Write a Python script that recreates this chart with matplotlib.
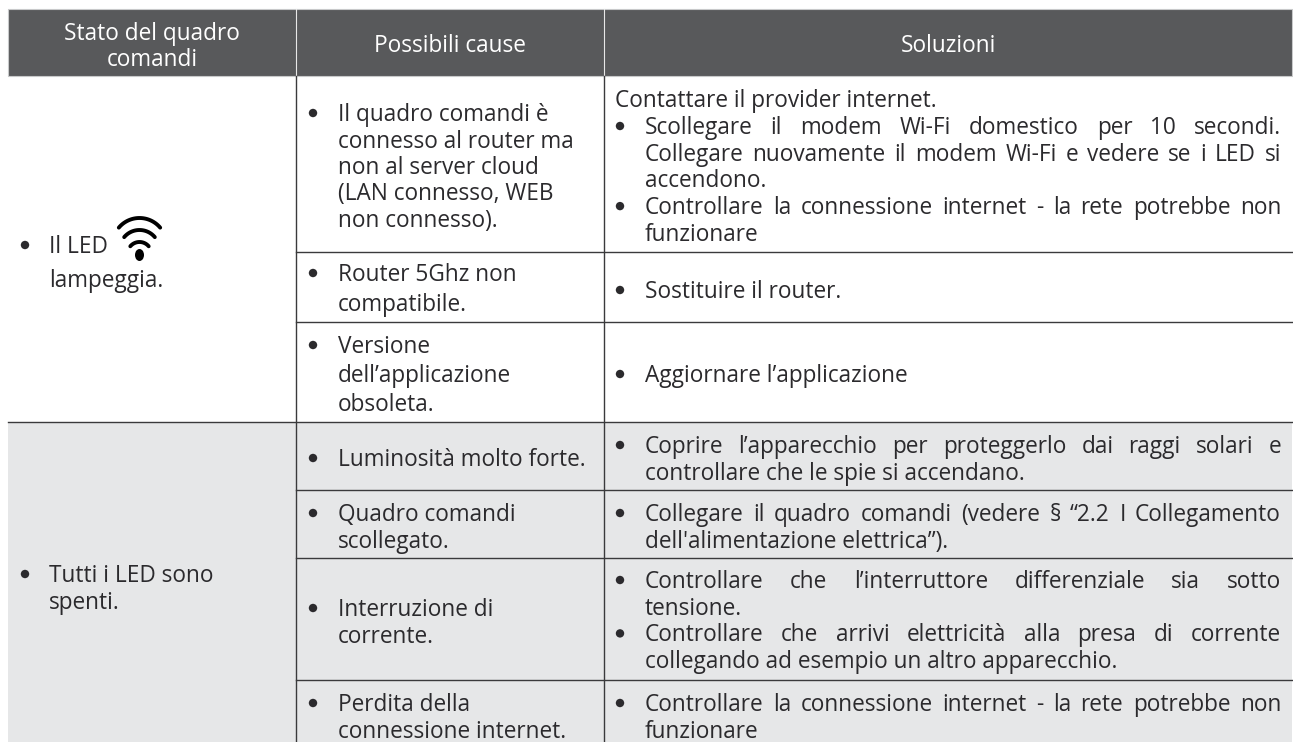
import numpy as np
import matplotlib
matplotlib.use("Agg")
import matplotlib.pyplot as plt
import matplotlib.patches as mpatches

plt.rcParams['font.family'] = ['Open Sans', 'DejaVu Sans']

# griglia della tabella (pixel)
col_edges = [8, 296, 604, 1292]
row_edges = [9, 76, 251.5, 322, 422, 490, 558, 679.5, 742]

col_titles = ["Stato del quadro", "comandi", "Possibili cause", "Soluzioni"]

stato_1 = ["Il LED", "lampeggia."]
stato_2 = ["Tutti i LED sono", "spenti."]

cause = [
    ["Il quadro comandi è", "connesso al router ma", "non al server cloud",
     "(LAN connesso, WEB", "non connesso)."],
    ["Router 5Ghz non", "compatibile."],
    ["Versione", "dell’applicazione", "obsoleta."],
    ["Luminosità molto forte."],
    ["Quadro comandi", "scollegato."],
    ["Interruzione di", "corrente."],
    ["Perdita della", "connessione internet."],
]

# (testo, pallino, giustificato)
soluzioni = [
    [("Scollegare il modem Wi-Fi domestico per 10 secondi.", True, True),
     ("Collegare nuovamente il modem Wi-Fi e vedere se i LED si", False, True),
     ("accendono.", False, False),
     ("Controllare la connessione internet - la rete potrebbe non", True, True),
     ("funzionare", False, False)],
    [("Sostituire il router.", True, False)],
    [("Aggiornare l’applicazione", True, False)],
    [("Coprire l’apparecchio per proteggerlo dai raggi solari e", True, True),
     ("controllare che le spie si accendano.", False, False)],
    [("Collegare il quadro comandi (vedere § “2.2 I Collegamento", True, True),
     ("dell'alimentazione elettrica”).", False, False)],
    [("Controllare che l’interruttore differenziale sia sotto", True, True),
     ("tensione.", False, False),
     ("Controllare che arrivi elettricità alla presa di corrente", True, True),
     ("collegando ad esempio un altro apparecchio.", False, False)],
    [("Controllare la connessione internet - la rete potrebbe non", True, True),
     ("funzionare", False, False)],
]
nota_provider = "Contattare il provider internet."

# prima linea di base di ogni cella e interlinea
cause_y = [121, 281, 353, 466, 521, 616, 711]
cause_h = [26.5, 30, 29, 0, 27, 27, 26.5]
soluzioni_y = [134, 298, 382, 453, 521, 588, 711]

fs = 16.3
line_h = 26.7
testo = "#2b2a2d"
grigio = "#e6e7e8"
scuro = "#58595b"
linea = "#3a3a3c"

fig = plt.figure(figsize=(12.93, 7.42), dpi=100)
ax = fig.add_axes([0, 0, 1, 1])
ax.set_xlim(0, 1293)
ax.set_ylim(742, 0)
ax.axis("off")

# sfondi
ax.add_patch(mpatches.Rectangle((col_edges[0], row_edges[0]), col_edges[-1] - col_edges[0],
                                row_edges[1] - row_edges[0], fc=scuro, ec="#c8c9ca", lw=0.8))
ax.add_patch(mpatches.Rectangle((col_edges[0], row_edges[4]), col_edges[-1] - col_edges[0],
                                row_edges[-1] - row_edges[4], fc=grigio, ec="none"))

# linee
for x in col_edges[1:3]:
    ax.plot([x, x], [row_edges[0], row_edges[1]], color="#e8e8e8", lw=0.8)
    ax.plot([x, x], [row_edges[1], row_edges[-1]], color=linea, lw=1)
for y in row_edges[2:-1]:
    x0 = col_edges[0] if y == row_edges[4] else col_edges[1]
    ax.plot([x0, col_edges[-1]], [y, y], color=linea, lw=1)

# intestazione
ax.text(152, 40, col_titles[0], color="white", fontsize=fs, ha="center", va="baseline")
ax.text(152, 66, col_titles[1], color="white", fontsize=fs, ha="center", va="baseline")
ax.text(450, 52, col_titles[2], color="white", fontsize=fs, ha="center", va="baseline")
ax.text(948, 52, col_titles[3], color="white", fontsize=fs, ha="center", va="baseline")


def pallino(x, y):
    ax.add_patch(mpatches.Circle((x, y - 8), 4.2, fc=testo, ec="none"))


def riga_giustificata(s, x0, x1, y):
    r = fig.canvas.get_renderer()
    parole = [ax.text(x0, y, w, color=testo, fontsize=fs, va="baseline") for w in s.split(" ")]
    larg = [p.get_window_extent(r).width for p in parole]
    gap = (x1 - x0 - sum(larg)) / (len(parole) - 1)
    x = x0
    for p, w in zip(parole, larg):
        p.set_x(x)
        x += w + gap


# prima colonna
pallino(25, 253)
ax.text(49, 253, stato_1[0], color=testo, fontsize=fs, va="baseline")
ax.text(49, 287, stato_1[1], color=testo, fontsize=fs, va="baseline")
pallino(25, 582)
ax.text(49, 582, stato_2[0], color=testo, fontsize=fs, va="baseline")
ax.text(49, 609, stato_2[1], color=testo, fontsize=fs, va="baseline")

# icona Wi-Fi
for raggio, cy, mezzo in [(27, 245, 50), (20, 250, 50), (12, 254, 50)]:
    t = np.radians(np.linspace(270 - mezzo, 270 + mezzo, 40))
    ax.plot(139.5 + raggio * np.cos(t), cy + raggio * np.sin(t), color="black", lw=2.8,
            solid_capstyle="round")
ax.add_patch(mpatches.Ellipse((139.5, 255), 9, 12, fc="black", ec="none"))

# seconda colonna
for righe, y0, h in zip(cause, cause_y, cause_h):
    pallino(313, y0)
    for n, s in enumerate(righe):
        ax.text(338, y0 + n * h, s, color=testo, fontsize=fs, va="baseline")

# terza colonna
ax.text(615, 107, nota_provider, color=testo, fontsize=fs, va="baseline")
for righe, y0 in zip(soluzioni, soluzioni_y):
    for n, (s, punto, giust) in enumerate(righe):
        y = y0 + n * line_h
        if punto:
            pallino(620, y)
        if giust:
            riga_giustificata(s, 645, 1281, y)
        else:
            ax.text(645, y, s, color=testo, fontsize=fs, va="baseline")

fig.savefig("out.png", dpi=100)
